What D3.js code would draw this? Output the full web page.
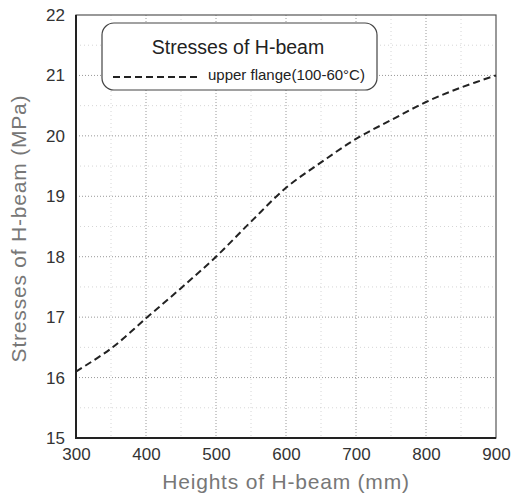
<!DOCTYPE html>
<html>
<head>
<meta charset="utf-8">
<script src="https://cdn.jsdelivr.net/npm/d3@7"></script>
<style>
  body { margin: 0; background: #fff; }
  text { font-family: Arial, "Liberation Sans", sans-serif; }
</style>
</head>
<body>
<div id="chart"></div>
<script>
// Data
const heights = [300, 350, 400, 450, 500, 550, 600, 650, 700, 750, 800, 850, 900];
const stresses = [16.1, 16.48, 16.98, 17.48, 18.0, 18.58, 19.14, 19.56, 19.95, 20.26, 20.56, 20.8, 21.0];
const xTicks = [300, 400, 500, 600, 700, 800, 900];
const yTicks = [15, 16, 17, 18, 19, 20, 21, 22];
const legendTitle = "Stresses of H-beam";
const seriesName = "upper flange(100-60°C)";

const margin = { top: 15, right: 18, bottom: 58, left: 76 };
const W = 514, H = 496;
const width = W - margin.left - margin.right;
const height = H - margin.top - margin.bottom;

const svg = d3.select("#chart")
  .append("svg")
    .attr("width", W)
    .attr("height", H);

const g = svg.append("g")
    .attr("transform", `translate(${margin.left},${margin.top})`);

const x = d3.scaleLinear().domain([300, 900]).range([0, width]);
const y = d3.scaleLinear().domain([15, 22]).range([height, 0]);

// minor grid (faint)
g.append("g")
  .selectAll("line")
  .data(d3.range(350, 900, 100))
  .enter().append("line")
    .attr("x1", d => x(d)).attr("x2", d => x(d))
    .attr("y1", 0).attr("y2", height)
    .attr("stroke", "#ccc")
    .attr("stroke-width", 0.8)
    .attr("stroke-dasharray", "1,3");

g.append("g")
  .selectAll("line")
  .data(d3.range(15.5, 22, 1))
  .enter().append("line")
    .attr("x1", 0).attr("x2", width)
    .attr("y1", d => y(d)).attr("y2", d => y(d))
    .attr("stroke", "#ccc")
    .attr("stroke-width", 0.8)
    .attr("stroke-dasharray", "1,3");

// major grid
g.append("g")
  .selectAll("line")
  .data(xTicks.slice(1, -1))
  .enter().append("line")
    .attr("x1", d => x(d)).attr("x2", d => x(d))
    .attr("y1", 0).attr("y2", height)
    .attr("stroke", "#999")
    .attr("stroke-width", 1)
    .attr("stroke-dasharray", "1,2");

g.append("g")
  .selectAll("line")
  .data(yTicks.slice(1, -1))
  .enter().append("line")
    .attr("x1", 0).attr("x2", width)
    .attr("y1", d => y(d)).attr("y2", d => y(d))
    .attr("stroke", "#999")
    .attr("stroke-width", 1)
    .attr("stroke-dasharray", "1,2");

// axes (labels only, frame drawn separately)
const xAxis = g.append("g")
  .attr("transform", `translate(0,${height})`)
  .call(d3.axisBottom(x).tickValues(xTicks).tickFormat(d3.format("d")).tickSize(0).tickPadding(10));
const yAxis = g.append("g")
  .call(d3.axisLeft(y).tickValues(yTicks).tickFormat(d3.format("d")).tickSize(0).tickPadding(11));
[xAxis, yAxis].forEach(a => {
  a.select(".domain").remove();
  a.selectAll("text")
    .style("font-size", "17px")
    .attr("fill", "#333");
});

// frame
g.append("rect")
  .attr("width", width)
  .attr("height", height)
  .attr("fill", "none")
  .attr("stroke", "#555")
  .attr("stroke-width", 1.2);
g.append("path")
  .attr("d", `M0,0V${height}H${width}`)
  .attr("fill", "none")
  .attr("stroke", "#222")
  .attr("stroke-width", 2);

// series
const line = d3.line()
  .x((d, i) => x(heights[i]))
  .y(d => y(d))
  .curve(d3.curveCatmullRom);

g.append("path")
  .datum(stresses)
  .attr("d", line)
  .attr("fill", "none")
  .attr("stroke", "#222")
  .attr("stroke-width", 2)
  .attr("stroke-dasharray", "7,4");

// legend
const leg = svg.append("g").attr("transform", "translate(102,23)");
leg.append("rect")
  .attr("width", 275)
  .attr("height", 67)
  .attr("rx", 12)
  .attr("fill", "#fff")
  .attr("stroke", "#444")
  .attr("stroke-width", 1.2);
leg.append("text")
  .attr("x", 136)
  .attr("y", 31)
  .attr("text-anchor", "middle")
  .style("font-size", "19.5px")
  .attr("fill", "#222")
  .text(legendTitle);
leg.append("line")
  .attr("x1", 11).attr("x2", 99)
  .attr("y1", 54).attr("y2", 54)
  .attr("stroke", "#222")
  .attr("stroke-width", 2)
  .attr("stroke-dasharray", "7,4");
leg.append("text")
  .attr("x", 106)
  .attr("y", 57)
  .style("font-size", "15px")
  .attr("fill", "#222")
  .text(seriesName);

// axis titles
svg.append("text")
  .attr("x", margin.left + width / 2)
  .attr("y", 489)
  .attr("text-anchor", "middle")
  .style("font-size", "21px")
  .style("letter-spacing", "0.8px")
  .attr("fill", "#777")
  .text("Heights of H-beam (mm)");

svg.append("text")
  .attr("transform", `translate(26,${margin.top + height / 2 + 2}) rotate(-90)`)
  .attr("text-anchor", "middle")
  .style("font-size", "21px")
  .style("letter-spacing", "0.8px")
  .attr("fill", "#777")
  .text("Stresses of H-beam (MPa)");
</script>
</body>
</html>
